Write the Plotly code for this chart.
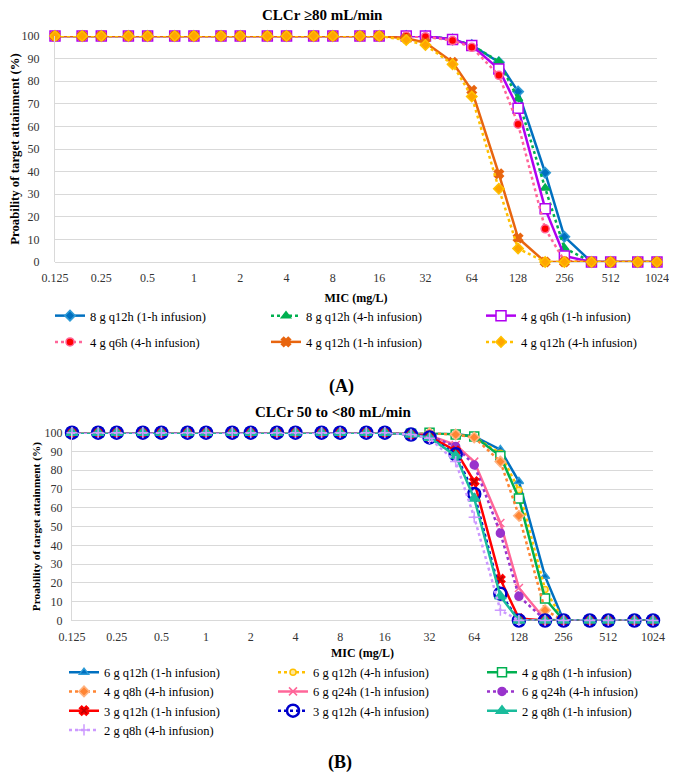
import math
import plotly.graph_objects as go

# MIC values (mg/L)
mic = [0.125, 0.1875, 0.25, 0.375, 0.5, 0.75, 1, 1.5, 2, 3, 4, 6, 8, 12, 16,
       24, 32, 48, 64, 96, 128, 192, 256, 384, 512, 768, 1024]
tick_vals = [0.125, 0.25, 0.5, 1, 2, 4, 8, 16, 32, 64, 128, 256, 512, 1024]
tick_text = ["0.125", "0.25", "0.5", "1", "2", "4", "8", "16", "32", "64", "128", "256", "512", "1024"]

H15 = [100] * 15  # 0.125 .. 16 mg/L

# Panel A: CLCr >= 80 mL/min
a_8g_q12h_1h = H15 + [100, 100, 98.5, 96, 88.4, 75.4, 39.5, 11.2, 0, 0, 0, 0]
a_8g_q12h_4h = H15 + [100, 100, 98.5, 96, 88.7, 72.2, 32.7, 6.2, 0, 0, 0, 0]
a_4g_q6h_1h = H15 + [100, 100, 98.5, 95.8, 85.4, 68.0, 23.6, 2.7, 0, 0, 0, 0]
a_4g_q6h_4h = H15 + [100, 99.7, 98.0, 95.0, 82.6, 61.0, 14.7, 0.5, 0, 0, 0, 0]
a_4g_q12h_1h = H15 + [99.0, 97.0, 88.4, 76.0, 39.0, 10.6, 0, 0, 0, 0, 0, 0]
a_4g_q12h_4h = H15 + [98.2, 96.0, 87.5, 73.2, 32.4, 6.0, 0, 0, 0, 0, 0, 0]

# Panel B: CLCr 50 to <80 mL/min
b_6g_q12h_1h = H15 + [99.5, 100, 99.3, 98.0, 91.0, 74.0, 23.5, 0, 0, 0, 0, 0]
b_6g_q12h_4h = H15 + [99.5, 100, 99.0, 97.8, 89.0, 69.5, 16.5, 0, 0, 0, 0, 0]
b_4g_q8h_1h = H15 + [99.5, 100, 99.0, 98.0, 87.6, 65.0, 11.7, 0, 0, 0, 0, 0]
b_4g_q8h_4h = H15 + [99.5, 99.8, 99.0, 97.5, 84.6, 55.8, 5.5, 0, 0, 0, 0, 0]
b_6g_q24h_1h = H15 + [99.3, 98.5, 93.5, 84.6, 51.9, 17.3, 0.5, 0, 0, 0, 0, 0]
b_6g_q24h_4h = H15 + [99.3, 98.5, 92.6, 82.8, 46.5, 12.9, 0.3, 0, 0, 0, 0, 0]
b_3g_q12h_1h = H15 + [99.2, 98.0, 90.4, 74.0, 22.0, 1.0, 0, 0, 0, 0, 0, 0]
b_3g_q12h_4h = H15 + [99.0, 97.5, 88.5, 67.4, 14.3, 0, 0, 0, 0, 0, 0, 0]
b_2g_q8h_1h = H15 + [99.0, 97.3, 87.8, 65.0, 12.9, 0, 0, 0, 0, 0, 0, 0]
b_2g_q8h_4h = H15 + [99.0, 97.0, 84.6, 55.0, 5.5, 0, 0, 0, 0, 0, 0, 0]

FONT = "Liberation Serif"
W, H = 677, 782
OFF = 8  # page body margin offset (px)

def px_x(p):
    return (p - OFF) / W

def px_y(p):
    return 1 - (p - OFF) / H

fig = go.Figure()

def add(x, y, name, color, dash, symbol, msize, mfill, mline, xa, ya, legend, mlw=1.5):
    fig.add_trace(go.Scatter(
        x=x, y=y, name=name, mode="lines+markers", xaxis=xa, yaxis=ya,
        legend=legend, legendgroup=name, cliponaxis=False,
        line=dict(color=color, dash=dash, width=2.5),
        marker=dict(symbol=symbol, size=msize, color=mfill,
                    line=dict(color=mline, width=mlw)),
    ))

# Panel A traces (legend columns: legend / legend2 / legend3)
add(mic, a_8g_q12h_1h, "8 g q12h (1-h infusion)", "#0070C0", "solid", "diamond", 8, "#0070C0", "#2E9BD6", "x", "y", "legend")
add(mic, a_8g_q12h_4h, "8 g q12h (4-h infusion)", "#00B050", "dot", "triangle-up", 8, "#00B050", "#00B050", "x", "y", "legend2")
add(mic, a_4g_q6h_1h, "4 g q6h (1-h infusion)", "#B000F0", "solid", "square", 10, "white", "#B000F0", "x", "y", "legend3")
add(mic, a_4g_q6h_4h, "4 g q6h (4-h infusion)", "#FF6699", "dot", "circle", 8, "#FF0000", "#FF6699", "x", "y", "legend")
add(mic, a_4g_q12h_1h, "4 g q12h (1-h infusion)", "#E8650F", "solid", "x", 8, "#E8650F", "#E8650F", "x", "y", "legend2")
add(mic, a_4g_q12h_4h, "4 g q12h (4-h infusion)", "#FFC000", "dot", "diamond", 8, "#FFA500", "#FFC000", "x", "y", "legend3")

# Panel B traces (legend columns: legend4 / legend5 / legend6)
add(mic, b_6g_q12h_1h, "6 g q12h (1-h infusion)", "#0070C0", "solid", "triangle-up", 8, "#0070C0", "#2E9BD6", "x2", "y2", "legend4")
add(mic, b_6g_q12h_4h, "6 g q12h (4-h infusion)", "#FFC000", "dot", "circle", 6, "#FFE699", "#FFC000", "x2", "y2", "legend5")
add(mic, b_4g_q8h_1h, "4 g q8h (1-h infusion)", "#00B050", "solid", "square", 9, "white", "#00B050", "x2", "y2", "legend6")
add(mic, b_4g_q8h_4h, "4 g q8h (4-h infusion)", "#FF8533", "dot", "diamond", 8, "#FF8533", "#FFB380", "x2", "y2", "legend4")
add(mic, b_6g_q24h_1h, "6 g q24h (1-h infusion)", "#FF6699", "solid", "x-thin", 8, "#FF6699", "#FF6699", "x2", "y2", "legend5")
add(mic, b_6g_q24h_4h, "6 g q24h (4-h infusion)", "#9933CC", "dot", "circle", 8, "#9933CC", "#9933CC", "x2", "y2", "legend6")
add(mic, b_3g_q12h_1h, "3 g q12h (1-h infusion)", "#FF0000", "solid", "x", 8, "#C00000", "#FF0000", "x2", "y2", "legend4")
add(mic, b_3g_q12h_4h, "3 g q12h (4-h infusion)", "#0000CC", "dot", "circle-open", 12, "#0000CC", "#0000CC", "x2", "y2", "legend5", 2.5)
add(mic, b_2g_q8h_1h, "2 g q8h (1-h infusion)", "#1ABC9C", "solid", "triangle-up", 10, "#1ABC9C", "#1ABC9C", "x2", "y2", "legend6")
add(mic, b_2g_q8h_4h, "2 g q8h (4-h infusion)", "#CC99FF", "dot", "cross-thin", 8, "#CC99FF", "#CC99FF", "x2", "y2", "legend4")

xr = [math.log10(0.125), math.log10(1024)]
axfont = dict(family=FONT, size=12, color="#333333")
titlefont = dict(family=FONT, size=12, color="black")

def xaxis(domain, anchor, standoff):
    return dict(type="log", range=xr, domain=domain, anchor=anchor, automargin=False,
                tickvals=tick_vals, ticktext=tick_text, showgrid=False,
                showline=False, ticks="", tickfont=axfont, ticklabelstandoff=7,
                title=dict(text="<b>MIC (mg/L)</b>", font=titlefont, standoff=standoff))

def yaxis(domain, anchor, tsize, standoff, tstandoff):
    return dict(range=[0, 100], domain=domain, anchor=anchor, dtick=10, automargin=False,
                gridcolor="#D9D9D9", gridwidth=1.3, zeroline=True,
                zerolinecolor="#D9D9D9", zerolinewidth=1.3,
                showline=True, linecolor="#D9D9D9", linewidth=1,
                ticks="", tickfont=axfont, ticklabelstandoff=standoff,
                title=dict(text="<b>Proability of target attainment (%)</b>",
                           font=dict(family=FONT, size=tsize, color="black"), standoff=tstandoff))

leg_common = dict(orientation="v", xanchor="left", yanchor="top",
                  font=dict(family=FONT, size=12.5, color="black"),
                  bgcolor="rgba(0,0,0,0)", itemclick=False, itemdoubleclick=False)

topA = 301
topB = 657.5
fig.update_layout(
    width=W, height=H,
    margin=dict(l=0, r=0, t=0, b=0, autoexpand=False),
    paper_bgcolor="white", plot_bgcolor="white",
    font=dict(family=FONT),
    xaxis=xaxis([px_x(55), px_x(657)], "y", 9),
    yaxis=yaxis([px_y(262), px_y(36)], "x", 12.8, 12, 7),
    xaxis2=xaxis([px_x(72), px_x(653)], "y2", 6),
    yaxis2=yaxis([px_y(620.5), px_y(432.7)], "x2", 11.3, 6, 1),
    legend=dict(leg_common, x=px_x(50), y=px_y(topA), tracegroupgap=7),
    legend2=dict(leg_common, x=px_x(266), y=px_y(topA), tracegroupgap=7),
    legend3=dict(leg_common, x=px_x(481), y=px_y(topA), tracegroupgap=7),
    legend4=dict(leg_common, x=px_x(64), y=px_y(topB), tracegroupgap=0),
    legend5=dict(leg_common, x=px_x(273), y=px_y(topB), tracegroupgap=0),
    legend6=dict(leg_common, x=px_x(482), y=px_y(topB), tracegroupgap=0),
    showlegend=True,
)

ann = [
    ("<b>CLCr ≥80 mL/min</b>", 322, 15, 15),
    ("<b>CLCr 50 to &lt;80 mL/min</b>", 333, 412, 15),
    ("<b>(A)</b>", 341, 386, 18),
    ("<b>(B)</b>", 340, 762, 18),
]
for text, x, y, s in ann:
    fig.add_annotation(text=text, x=px_x(x), y=px_y(y), xref="paper", yref="paper",
                       showarrow=False, xanchor="center", yanchor="middle",
                       font=dict(family=FONT, size=s, color="black"))

fig.write_html("out.html")
